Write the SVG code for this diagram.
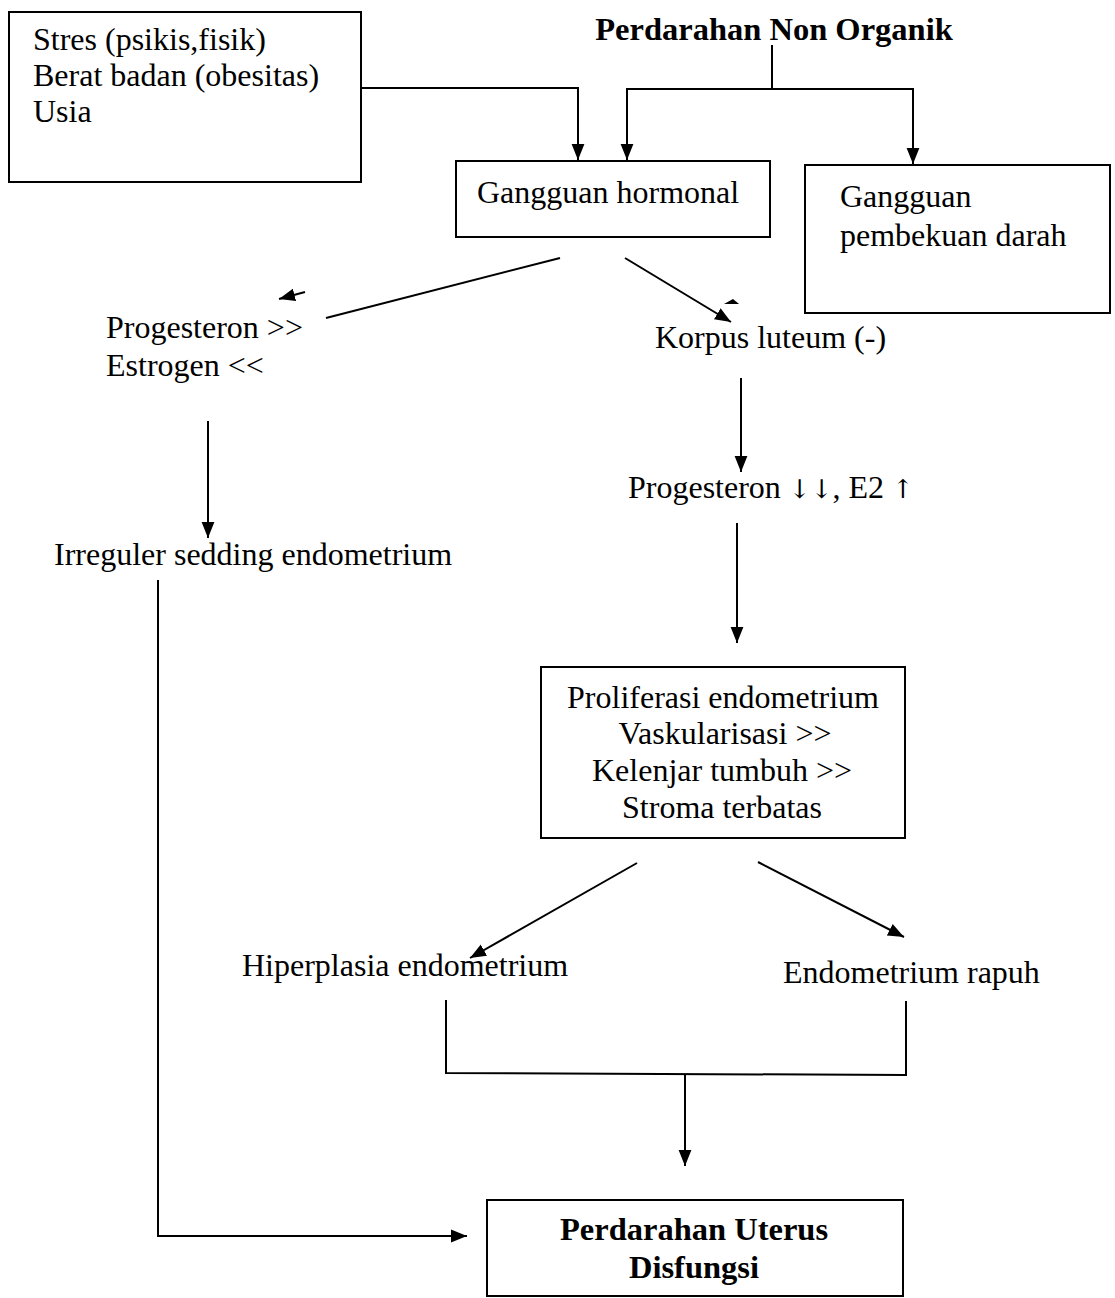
<svg xmlns="http://www.w3.org/2000/svg" width="1115" height="1298" viewBox="0 0 1115 1298">
<style>
text{font-family:"Liberation Serif","Times New Roman",serif;font-size:32px;fill:#000}
.b{font-weight:bold;font-size:32.5px}
.ar{font-family:"DejaVu Serif",serif;font-size:26px}
.box{fill:#fff;stroke:#000;stroke-width:2}
.ln{fill:none;stroke:#000;stroke-width:2}
</style>
<defs>
<marker id="ahs" viewBox="0 0 10 10" refX="10" refY="5" markerWidth="16" markerHeight="16" markerUnits="userSpaceOnUse" orient="auto">
<path d="M0,1 L10,5 L0,9 z" fill="#000"/>
</marker>
</defs>
<rect width="1115" height="1298" fill="#fff"/>
<g id="connectors">
<polyline class="ln" points="361,88 578,88 578,160" marker-end="url(#ahs)"/>
<polyline class="ln" points="772,45 772,89 627,89 627,160" marker-end="url(#ahs)"/>
<polyline class="ln" points="772,89 913,89 913,164" marker-end="url(#ahs)"/>
<line class="ln" x1="560" y1="258" x2="326" y2="318"/>
<line class="ln" x1="305" y1="292" x2="279" y2="299" marker-end="url(#ahs)"/>
<line class="ln" x1="625" y1="258" x2="731" y2="322" marker-end="url(#ahs)"/>
<path d="M724,304 L733,299 L739,304 z" fill="#000"/>
<line class="ln" x1="208" y1="421" x2="208" y2="538" marker-end="url(#ahs)"/>
<line class="ln" x1="741" y1="378" x2="741" y2="472" marker-end="url(#ahs)"/>
<line class="ln" x1="737" y1="523" x2="737" y2="643" marker-end="url(#ahs)"/>
<polyline class="ln" points="158,580 158,1236 467,1236" marker-end="url(#ahs)"/>
<line class="ln" x1="637" y1="863" x2="470" y2="958" marker-end="url(#ahs)"/>
<line class="ln" x1="758" y1="862" x2="904" y2="937" marker-end="url(#ahs)"/>
<polyline class="ln" points="446,1000 446,1073 906,1075 906,1001"/>
<line class="ln" x1="685" y1="1075" x2="685" y2="1166" marker-end="url(#ahs)"/>
</g>
<g id="n-faktor">
<rect class="box" x="9" y="12" width="352" height="170"/>
<text x="33" y="50">Stres (psikis,fisik)</text>
<text x="33" y="86">Berat badan (obesitas)</text>
<text x="33" y="122">Usia</text>
</g>
<g id="n-title">
<text class="b" x="774" y="40" text-anchor="middle">Perdarahan Non Organik</text>
</g>
<g id="n-hormonal">
<rect class="box" x="456" y="161" width="314" height="76"/>
<text x="477" y="203">Gangguan hormonal</text>
</g>
<g id="n-pembekuan">
<rect class="box" x="805" y="165" width="305" height="148"/>
<text x="840" y="207">Gangguan</text>
<text x="840" y="246">pembekuan darah</text>
</g>
<g id="n-progest">
<text x="106" y="338">Progesteron &gt;&gt;</text>
<text x="106" y="376">Estrogen &lt;&lt;</text>
</g>
<g id="n-korpus">
<text x="655" y="348">Korpus luteum (-)</text>
</g>
<g id="n-progest2">
<text x="628" y="498">Progesteron <tspan class="ar">↓↓</tspan>, E2 <tspan class="ar">↑</tspan></text>
</g>
<g id="n-irreguler">
<text x="54" y="565">Irreguler sedding endometrium</text>
</g>
<g id="n-proliferasi">
<rect class="box" x="541" y="667" width="364" height="171"/>
<text x="723" y="708" text-anchor="middle">Proliferasi endometrium</text>
<text x="725" y="744" text-anchor="middle">Vaskularisasi &gt;&gt;</text>
<text x="722" y="781" text-anchor="middle">Kelenjar tumbuh &gt;&gt;</text>
<text x="722" y="818" text-anchor="middle">Stroma terbatas</text>
</g>
<g id="n-hiperplasia">
<text x="242" y="976">Hiperplasia endometrium</text>
</g>
<g id="n-rapuh">
<text x="783" y="983">Endometrium rapuh</text>
</g>
<g id="n-pud">
<rect class="box" x="487" y="1200" width="416" height="96"/>
<text class="b" x="694" y="1240" text-anchor="middle">Perdarahan Uterus</text>
<text class="b" x="694" y="1278" text-anchor="middle">Disfungsi</text>
</g>
</svg>
